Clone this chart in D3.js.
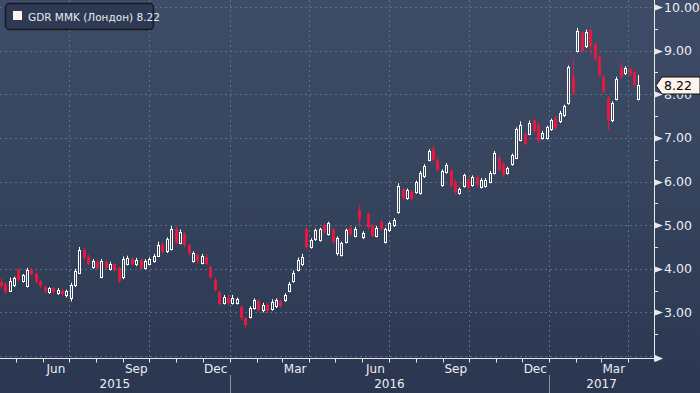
<!DOCTYPE html>
<html>
<head>
<meta charset="utf-8">
<script src="https://cdn.jsdelivr.net/npm/d3@7"></script>
<style>
html,body{margin:0;padding:0;background:#2c3852;}
svg{display:block;}
</style>
</head>
<body>
<svg id="chart" width="700" height="393"></svg>
<script>
// ---- data ----
const seriesName = "GDR MMK (Лондон)";
const lastPrice = 8.22;
const startDate = "2015-04-14";   // first candle
const stepDays = 5;               // spacing between candles
const opens = [3.70,3.66,3.50,3.62,3.98,3.72,3.60,3.98,3.88,3.72,
 3.58,3.46,3.55,3.44,3.50,3.40,3.32,3.62,3.90,4.42,
 4.28,4.05,4.15,3.80,4.15,4.00,4.10,4.02,3.80,4.12,
 4.22,4.10,4.20,4.02,4.12,4.18,4.30,4.55,4.40,4.45,
 4.92,4.60,4.80,4.55,4.18,4.32,4.14,4.28,4.05,3.75,
 3.46,3.22,3.34,3.22,3.22,3.12,2.86,2.90,3.10,3.25,
 3.06,3.18,3.08,3.14,3.26,3.28,3.50,3.72,3.98,4.10,
 4.92,4.50,4.68,4.65,5.00,4.80,4.90,4.35,4.32,4.62,
 4.94,4.76,5.34,4.72,5.26,5.00,4.76,5.08,4.62,4.88,
 5.00,5.30,5.82,5.62,5.76,5.75,5.74,6.12,6.50,6.75,
 6.50,5.92,6.22,6.24,6.00,5.74,5.90,6.06,5.92,6.10,
 5.88,5.90,6.00,6.20,6.55,6.40,6.20,6.40,6.55,6.95,
 7.10,7.10,7.40,7.30,7.00,7.00,7.20,7.45,7.38,7.52,
 7.80,8.40,9.00,9.40,9.10,9.47,9.15,8.85,8.40,7.92,
 7.40,7.90,8.60,8.48,8.58,8.50,7.88];
const closes = [3.60,3.47,3.72,3.78,3.74,3.85,3.98,3.88,3.70,3.60,
 3.50,3.55,3.46,3.52,3.42,3.48,3.62,3.95,4.42,4.25,
 4.12,4.18,4.02,4.18,4.02,4.12,3.98,3.72,4.22,4.24,
 4.12,4.20,4.02,4.18,4.22,4.30,4.55,4.38,4.68,4.92,
 4.60,4.85,4.55,4.35,4.35,4.18,4.30,4.12,3.80,3.52,
 3.20,3.36,3.22,3.34,3.30,2.86,2.70,3.10,3.28,3.06,
 3.18,3.04,3.24,3.28,3.14,3.40,3.66,3.90,4.20,4.28,
 4.50,4.65,4.88,4.90,4.85,5.04,4.62,4.70,4.58,4.88,
 4.80,4.92,5.14,4.82,4.95,4.76,4.94,4.92,4.90,5.04,
 5.12,5.90,5.62,5.80,5.60,5.98,6.20,6.36,6.70,6.50,
 6.26,6.24,6.38,5.90,5.75,5.82,6.14,5.86,6.10,5.92,
 6.04,6.04,6.20,6.65,6.26,6.15,6.30,6.60,7.20,7.30,
 6.86,7.35,7.15,6.92,7.12,7.24,7.40,7.22,7.58,7.72,
 8.62,8.02,9.45,9.00,9.43,9.10,8.80,8.45,8.06,7.38,
 7.80,8.36,8.40,8.60,8.46,8.22,8.22];
const highs = [3.78,3.70,3.80,3.82,4.02,3.88,4.02,4.02,3.92,3.75,
 3.62,3.58,3.58,3.56,3.54,3.52,3.68,4.00,4.50,4.48,
 4.32,4.22,4.20,4.22,4.20,4.16,4.14,4.05,4.28,4.30,
 4.26,4.25,4.24,4.22,4.26,4.34,4.62,4.62,4.72,4.98,
 4.96,4.90,4.84,4.58,4.40,4.36,4.34,4.32,4.08,3.80,
 3.50,3.40,3.40,3.40,3.34,3.16,2.90,3.14,3.32,3.30,
 3.22,3.22,3.30,3.32,3.30,3.44,3.70,3.96,4.26,4.34,
 4.96,4.70,4.92,4.94,5.04,5.08,4.94,4.74,4.62,4.92,
 4.98,4.96,5.46,4.86,5.30,5.04,4.98,5.12,4.94,5.08,
 5.16,5.96,5.86,5.84,5.80,6.02,6.24,6.40,6.74,6.82,
 6.56,6.28,6.42,6.28,6.04,5.86,6.18,6.10,6.14,6.14,
 6.08,6.08,6.24,6.70,6.60,6.44,6.34,6.64,7.24,7.38,
 7.14,7.40,7.44,7.34,7.16,7.28,7.44,7.50,7.62,7.76,
 8.66,8.82,9.52,9.44,9.48,9.50,9.18,8.88,8.45,7.96,
 7.84,8.40,8.74,8.64,8.62,8.56,8.44];
const lows = [3.55,3.42,3.48,3.58,3.70,3.68,3.57,3.85,3.66,3.56,
 3.44,3.42,3.42,3.40,3.38,3.34,3.25,3.58,3.88,4.20,
 4.08,4.00,3.98,3.78,3.98,3.96,3.94,3.68,3.76,4.08,
 4.08,4.06,3.98,3.98,4.08,4.14,4.28,4.34,4.36,4.42,
 4.55,4.56,4.50,4.30,4.14,4.12,4.10,4.08,3.76,3.48,
 3.16,3.18,3.16,3.18,3.18,2.82,2.64,2.86,3.06,3.02,
 3.00,2.98,3.04,3.10,3.10,3.24,3.46,3.68,3.94,4.06,
 4.46,4.46,4.64,4.62,4.80,4.76,4.58,4.30,4.28,4.58,
 4.76,4.72,4.95,4.68,4.90,4.72,4.72,4.88,4.58,4.84,
 4.96,5.26,5.58,5.58,5.56,5.72,5.70,6.08,6.46,6.46,
 6.22,5.88,6.18,5.86,5.70,5.70,5.86,5.82,5.88,5.86,
 5.84,5.86,5.96,6.16,6.22,6.10,6.16,6.36,6.52,6.92,
 6.82,7.06,7.10,6.88,6.96,6.96,7.16,7.18,7.34,7.48,
 7.76,7.98,8.96,8.96,9.06,8.90,8.76,8.40,8.02,7.18,
 7.36,7.86,8.36,8.44,8.42,8.18,7.86];
const yTicks = [3,4,5,6,7,8,9,10];
const monthLabelDates = ["2015-06","2015-09","2015-12","2016-03","2016-06","2016-09","2016-12","2017-03"];
const monthLabels = ["Jun","Sep","Dec","Mar","Jun","Sep","Dec","Mar"];
const years = [2015,2016,2017];

// ---- layout ----
const W = 700, H = 393;
const plotRight = 654, axisY = 358.5;
const svg = d3.select("#chart");
const parseDay = d3.timeParse("%Y-%m-%d");
const parseMonth = d3.timeParse("%Y-%m");

const x = d3.scaleTime()
  .domain([new Date(2015,3,13), new Date(2017,4,1)])
  .range([0, plotRight]);
const y = d3.scaleLinear().domain([2,10]).range([356,7]);

const candles = opens.map((o,i)=>({
  date: d3.timeDay.offset(parseDay(startDate), i*stepDays),
  o, c: closes[i], h: highs[i], l: lows[i]
}));

// background gradient
const defs = svg.append("defs");
const grad = defs.append("linearGradient").attr("id","bg")
  .attr("gradientUnits","userSpaceOnUse").attr("x1",0).attr("y1",0).attr("x2",0).attr("y2",H);
grad.append("stop").attr("offset","0%").attr("stop-color","#3f4c67");
grad.append("stop").attr("offset","45%").attr("stop-color","#37445e");
grad.append("stop").attr("offset","100%").attr("stop-color","#2b3751");
svg.append("rect").attr("width",W).attr("height",H).attr("fill","url(#bg)");

const gridColor = "#5d6e89";
// horizontal grid
svg.append("g").selectAll("line").data([2].concat(yTicks)).join("line")
  .attr("x1",0).attr("x2",plotRight)
  .attr("y1",d=>Math.round(y(d))+0.5).attr("y2",d=>Math.round(y(d))+0.5)
  .attr("stroke",gridColor).attr("stroke-width",1).attr("stroke-dasharray","2,3");
// vertical grid at quarter starts
const quarterStarts = d3.timeMonth.every(3).range(new Date(2015,3,14), new Date(2017,4,1));
svg.append("g").selectAll("line").data(quarterStarts).join("line")
  .attr("x1",d=>Math.round(x(d))+0.5).attr("x2",d=>Math.round(x(d))+0.5)
  .attr("y1",0).attr("y2",axisY)
  .attr("stroke",gridColor).attr("stroke-width",1).attr("stroke-dasharray","2,3");

// candles
const red = "#e5183f";
const cg = svg.append("g");
candles.forEach(d=>{
  const cx = Math.round(x(d.date));
  const left = cx - 1;
  const up = d.c >= d.o;
  const col = up ? "#ffffff" : red;
  cg.append("line")
    .attr("x1",left+1.5).attr("x2",left+1.5)
    .attr("y1",y(d.h)).attr("y2",y(d.l))
    .attr("stroke",col).attr("stroke-width",1);
  const top = Math.round(y(Math.max(d.o,d.c)));
  const bot = Math.round(y(Math.min(d.o,d.c)));
  if (up) {
    cg.append("rect").attr("x",left+0.5).attr("y",top+0.5)
      .attr("width",2).attr("height",Math.max(bot-top,1))
      .attr("fill","url(#bg)").attr("stroke","#ffffff").attr("stroke-width",1);
  } else {
    cg.append("rect").attr("x",left).attr("y",top)
      .attr("width",3).attr("height",Math.max(bot-top,1))
      .attr("fill",red);
  }
});

// right axis
const axCol = "#e6e8ee";
svg.append("line").attr("x1",plotRight+0.5).attr("x2",plotRight+0.5)
  .attr("y1",0).attr("y2",axisY+3).attr("stroke",axCol).attr("stroke-width",1);
const minor = d3.range(2.5,10,1);
svg.append("g").selectAll("line").data(minor).join("line")
  .attr("x1",plotRight).attr("x2",plotRight+4)
  .attr("y1",d=>Math.round(y(d))+0.5).attr("y2",d=>Math.round(y(d))+0.5)
  .attr("stroke",axCol);
svg.append("g").selectAll("path").data(yTicks).join("path")
  .attr("d",d=>{const yy=Math.round(y(d))+0.5; return `M${plotRight+1},${yy-3} L${plotRight+9},${yy} L${plotRight+1},${yy+3} Z`;})
  .attr("fill",axCol);
svg.append("g").selectAll("text").data(yTicks).join("text")
  .attr("x",664).attr("y",d=>y(d)+4.5)
  .attr("font-family","DejaVu Sans, sans-serif").attr("font-size",12.5)
  .attr("fill","#eceef3")
  .text(d=>d3.format(".2f")(d));

// x axis
svg.append("line").attr("x1",0).attr("x2",plotRight+1).attr("y1",axisY).attr("y2",axisY)
  .attr("stroke",axCol).attr("stroke-width",1);
svg.append("path").attr("d",`M${plotRight+1},${axisY-3.5} L${plotRight+9},${axisY} L${plotRight+1},${axisY+3.5} Z`).attr("fill",axCol);
const monthStarts = d3.timeMonth.range(new Date(2015,3,14), new Date(2017,4,1));
svg.append("g").selectAll("line").data(monthStarts).join("line")
  .attr("x1",d=>Math.round(x(d))+0.5).attr("x2",d=>Math.round(x(d))+0.5)
  .attr("y1",axisY).attr("y2",axisY+4).attr("stroke",axCol);
svg.append("g").selectAll("text").data(monthLabelDates).join("text")
  .attr("x",d=>{const m=parseMonth(d); return x(new Date(m.getFullYear(), m.getMonth(), 16));})
  .attr("y",373).attr("text-anchor","middle")
  .attr("font-family","DejaVu Sans, sans-serif").attr("font-size",12)
  .attr("fill","#eceef3")
  .text((d,i)=>monthLabels[i]);
// year labels & separators
years.forEach(yr=>{
  const a = Math.max(0, x(new Date(yr,0,1)));
  const b = Math.min(plotRight, x(new Date(yr+1,0,1)));
  svg.append("text").attr("x",(a+b)/2).attr("y",388).attr("text-anchor","middle")
    .attr("font-family","DejaVu Sans, sans-serif").attr("font-size",12)
    .attr("fill","#eceef3").text(yr);
});
years.slice(1).forEach(yr=>{
  const xx = Math.round(x(new Date(yr,0,1)))+0.5;
  svg.append("line").attr("x1",xx).attr("x2",xx).attr("y1",375).attr("y2",H)
    .attr("stroke","#8a93a6").attr("stroke-width",1);
});

// last price label
const ly = Math.round(y(lastPrice))+0.5;
svg.append("path")
  .attr("d",`M656,${ly} L662,${ly-8.5} H700 V${ly+8.5} H662 Z`)
  .attr("fill","#fff3ee").attr("stroke","#111").attr("stroke-width",1);
svg.append("text").attr("x",664).attr("y",ly+4.5)
  .attr("font-family","DejaVu Sans, sans-serif").attr("font-size",12.5)
  .attr("fill","#000").text(d3.format(".2f")(lastPrice));

// legend
svg.append("rect").attr("x",5.5).attr("y",3.5).attr("width",148).attr("height",26).attr("rx",4)
  .attr("fill","#2e3a53").attr("stroke","#141923").attr("stroke-width",1.5);
svg.append("rect").attr("x",13).attr("y",11).attr("width",9).attr("height",9).attr("fill","#fff3ee");
svg.append("text").attr("x",28).attr("y",20.5)
  .attr("font-family","DejaVu Sans, sans-serif").attr("font-size",10.5)
  .attr("fill","#e8eaf0")
  .text(seriesName + "  " + d3.format(".2f")(lastPrice));
</script>
</body>
</html>
